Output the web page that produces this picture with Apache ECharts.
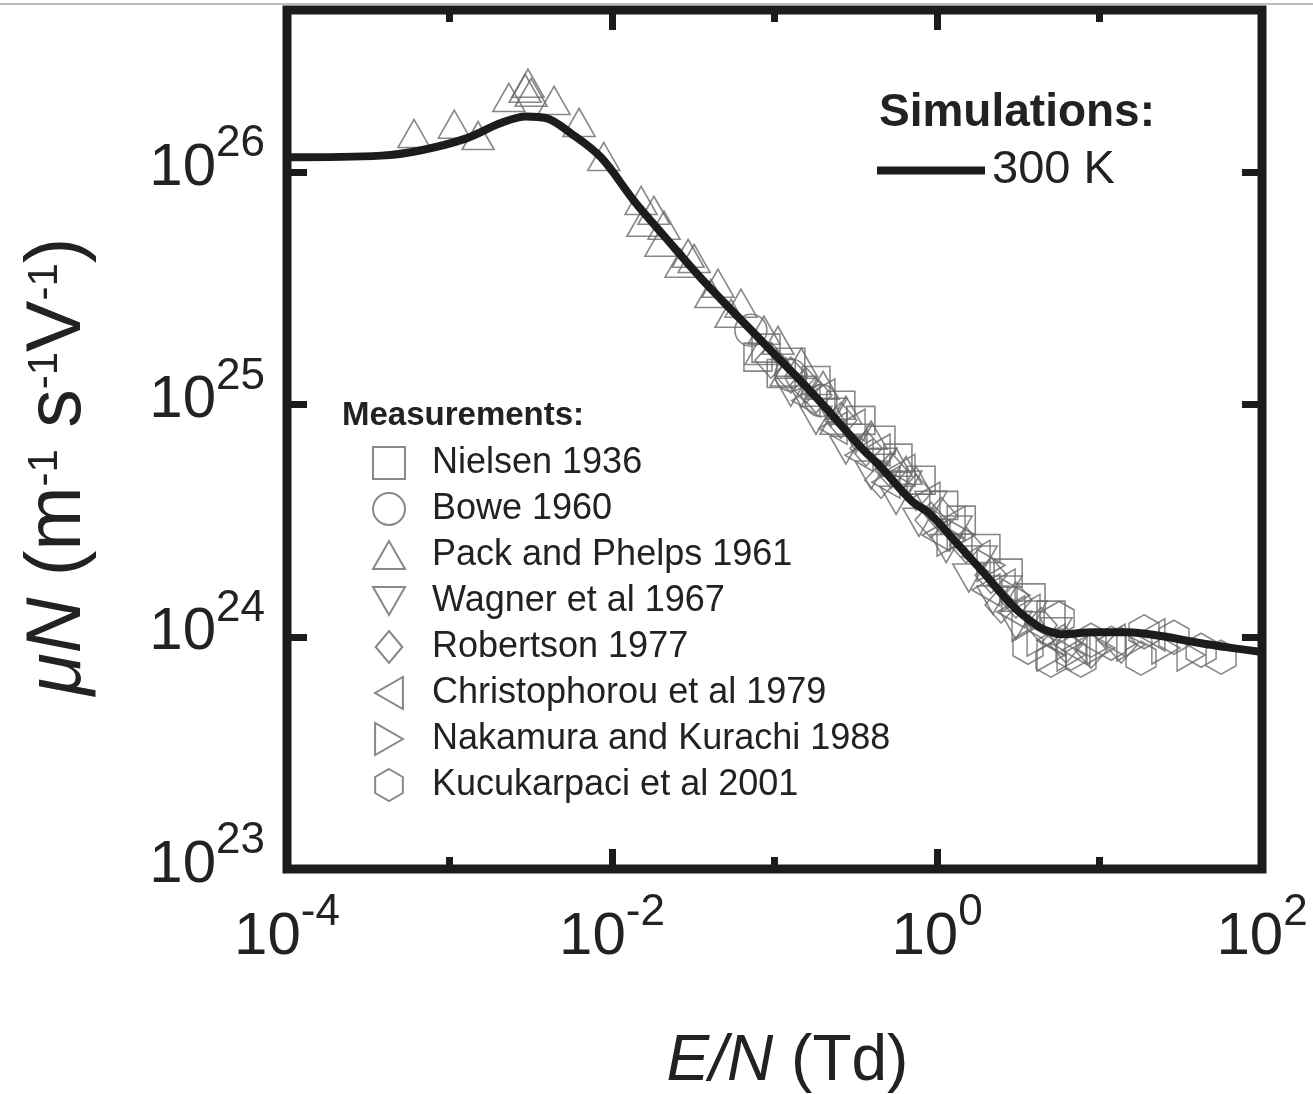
<!DOCTYPE html>
<html>
<head>
<meta charset="utf-8">
<script src="https://cdn.jsdelivr.net/npm/echarts@6/dist/echarts.min.js"></script>
<style>
  html, body { margin: 0; padding: 0; background: #ffffff; }
  #chart { width: 1313px; height: 1094px; }
</style>
</head>
<body>
<div id="chart"></div>
<script>
// Simulated reduced mobility at 300 K: E/N (Td) and muN (m^-1 s^-1 V^-1)
const simEN = [1e-4, 3.8e-4, 6.7e-4, 1.27e-3, 2.07e-3, 2.96e-3, 3.93e-3, 5.6e-3, 8.55e-3, 1.36e-2,
  2.0e-2, 3.53e-2, 8.26e-2, 0.175, 0.34, 0.452, 0.692, 0.918, 1.27, 1.87,
  2.98, 4.19, 5.04, 5.79, 9.25, 15.0, 23.9, 38.2, 61.8, 100];
const simMuN = [1.16e26, 1.18e26, 1.245e26, 1.40e26, 1.63e26, 1.74e26, 1.71e26, 1.47e26, 1.16e26, 7.57e25,
  5.52e25, 3.50e25, 1.89e25, 1.10e25, 6.55e24, 5.37e24, 3.87e24, 3.35e24, 2.61e24, 1.94e24,
  1.34e24, 1.11e24, 1.047e24, 1.026e24, 1.047e24, 1.047e24, 1.007e24, 9.5e23, 9.0e23, 8.6e23];

// Measured values, [E/N, muN]
const nielsen1936 = [[0.0791,1.60e25],[0.0887,1.75e25],[0.110,1.36e25],[0.126,1.52e25],[0.180,1.27e25],
  [0.256,9.93e24],[0.340,8.55e24],[0.452,7.02e24],[0.575,5.88e24],[0.798,4.72e24],[1.10,3.68e24],
  [1.41,3.18e24],[2.00,2.40e24],[2.74,1.88e24],[3.79,1.47e24],[5.03,1.24e24]];
const bowe1960 = [[0.0716,2.09e25],[0.126,1.34e25],[0.193,1.04e25]];
const packPhelps1961 = [[6.05e-4,1.47e26],[1.07e-3,1.61e26],[1.50e-3,1.44e26],[2.32e-3,2.10e26],
  [2.92e-3,2.30e26],[3.04e-3,2.42e26],[3.18e-3,2.21e26],[4.4e-3,2.04e26],[6.27e-3,1.64e26],
  [8.9e-3,1.17e26],[0.0151,7.57e25],[0.0155,6.09e25],[0.0181,6.86e25],[0.0200,5.0e25],[0.0209,5.92e25],
  [0.0266,4.06e25],[0.0294,4.48e25],[0.0320,4.26e25],[0.0406,3.01e25],[0.0449,3.33e25],[0.0540,2.47e25],
  [0.0622,2.73e25],[0.0826,1.71e25],[0.0861,2.09e25],[0.105,1.89e25],[0.118,1.38e25],[0.146,1.52e25],
  [0.199,1.21e25],[0.239,8.55e24],[0.275,9.45e24],[0.393,7.38e24],[0.560,5.65e24],[0.644,5.21e24],
  [0.743,4.72e24]];
const wagner1967 = [[0.126,1.13e25],[0.146,1.13e25],[0.180,8.55e24],[0.223,9.27e24],[0.275,6.36e24],
  [0.318,7.16e24],[0.393,4.97e24],[0.452,5.65e24],[0.560,3.87e24],[0.644,4.50e24],[0.774,3.11e24],
  [0.918,3.68e24],[1.14,2.40e24],[1.31,2.88e24],[1.57,1.79e24],[1.87,2.14e24],[2.21,1.44e24],
  [2.66,1.59e24],[3.06,1.12e24],[3.79,1.24e24],[5.40,1.05e24]];
const robertson1977 = [[0.0951,1.55e25],[0.126,1.34e25],[0.156,1.21e25],[0.180,1.10e25],[0.256,8.55e24],
  [0.366,6.49e24],[0.452,4.72e24],[0.521,5.21e24],[0.743,4.19e24],[0.918,3.18e24],[1.06,3.33e24],
  [1.51,2.48e24],[2.15,1.84e24],[2.48,1.37e24],[3.06,1.44e24],[4.37,1.12e24],[6.22,9.21e23],
  [8.87,8.75e23],[13.6,9.21e23]];
const christophorou1979 = [[0.156,1.04e25],[0.193,1.10e25],[0.229,7.91e24],[0.296,8.15e24],[0.331,6.05e24],
  [0.422,6.36e24],[0.485,4.63e24],[0.600,5.21e24],[0.855,3.95e24],[0.986,2.74e24],[1.22,3.11e24],
  [1.74,2.22e24],[2.00,1.59e24],[2.48,1.67e24],[2.85,1.28e24],[3.53,1.30e24],[5.03,9.67e23],
  [7.16,8.75e23],[11.8,9.67e23],[20.7,1.02e24]];
const nakamura1988 = [[1.22,2.61e24],[1.41,2.74e24],[2.15,2.03e24],[3.06,1.51e24],[3.53,1.12e24],
  [4.37,9.67e23],[5.03,8.34e23],[6.68,8.34e23],[10.2,8.94e23],[15.6,9.21e23],[25.6,8.94e23],[36.6,8.34e23]];
const kucukarpaci2001 = [[3.63,9.02e23],[5.03,7.93e23],[5.64,1.20e24],[6.68,8.50e23],[7.69,7.93e23],
  [8.87,9.67e23],[11.8,9.37e23],[18.0,8.09e23],[18.8,1.05e24],[28.7,9.96e23],[42.2,8.75e23],[56.0,8.17e23]];

const measurementNames = ['Nielsen 1936', 'Bowe 1960', 'Pack and Phelps 1961', 'Wagner et al 1967',
  'Robertson 1977', 'Christophorou et al 1979', 'Nakamura and Kurachi 1988', 'Kucukarpaci et al 2001'];
const simulationName = '300 K';

const FONT = '"Liberation Sans", Arial, Helvetica, sans-serif';
const INK = '#1c1c1c';
const MARK = '#6a6a6a';

const SYMBOLS = {
  square: 'path://M0,0 L10,0 L10,10 L0,10 Z',
  circle: 'circle',
  up: 'path://M5,0 L10,8.7 L0,8.7 Z',
  down: 'path://M0,0 L10,0 L5,8.7 Z',
  diamond: 'path://M5,0 L10,6 L5,12 L0,6 Z',
  left: 'path://M8.7,0 L8.7,10 L0,5 Z',
  right: 'path://M0,0 L0,10 L8.7,5 Z',
  hexagon: 'path://M5,0 L9.33,2.5 L9.33,7.5 L5,10 L0.67,7.5 L0.67,2.5 Z'
};

// "10" with the exponent raised as a superscript
function powLabel(v) {
  const e = Math.log10(v);
  if (Math.abs(e - Math.round(e)) > 1e-6) return '';
  return '{b|10}{s|' + Math.round(e) + '}';
}
const tickRich = {
  b: { fontFamily: FONT, fontSize: 60, color: '#222', lineHeight: 76, verticalAlign: 'bottom' },
  s: { fontFamily: FONT, fontSize: 44, color: '#222', lineHeight: 44, verticalAlign: 'top' }
};

function scatter(name, data, symbol, size) {
  return {
    name: name, type: 'scatter', data: data, symbol: symbol, symbolSize: size,
    itemStyle: { color: 'rgba(255,255,255,0)', borderColor: MARK, borderWidth: 1.6 },
    emphasis: { disabled: true }, z: 2
  };
}

const chart = echarts.init(document.getElementById('chart'), null, { renderer: 'canvas' });

const xBase = { type: 'log', min: 1e-4, max: 1e2, gridIndex: 0, splitLine: { show: false }, axisLine: { show: false } };
const yBase = { type: 'log', min: 1e23, max: 5e26, interval: 1, gridIndex: 0, splitLine: { show: false }, axisLine: { show: false } };

chart.setOption({
  animation: false,
  backgroundColor: '#ffffff',
  grid: { left: 287, right: 51, top: 10, bottom: 225, outerBoundsMode: 'none', containLabel: false,
    show: true, borderColor: INK, borderWidth: 9, backgroundColor: 'transparent' },
  title: [
    { text: 'Simulations:', left: 879, top: 90, padding: 0,
      textStyle: { fontFamily: FONT, fontSize: 46, fontWeight: 'bold', color: '#222' } },
    { text: 'Measurements:', left: 342, top: 399, padding: 0,
      textStyle: { fontFamily: FONT, fontSize: 33, fontWeight: 'bold', color: '#222' } }
  ],
  legend: [
    { data: measurementNames, orient: 'vertical', left: 372, top: 445, padding: 0,
      itemWidth: 32, itemHeight: 32, itemGap: 10, selectedMode: false, symbolRotate: 'inherit',
      textStyle: { fontFamily: FONT, fontSize: 36, color: '#222', lineHeight: 32, padding: [0, 0, 0, 22] } },
    { data: [{ name: simulationName, icon: 'rect' }], left: 877, top: 147, padding: 0,
      itemWidth: 108, itemHeight: 8, selectedMode: false,
      itemStyle: { color: INK },
      textStyle: { fontFamily: FONT, fontSize: 47, color: '#222', lineHeight: 46, padding: [0, 0, 0, 2] } }
  ],
  xAxis: [
    Object.assign({}, xBase, {
      position: 'bottom', interval: 2,
      axisTick: { show: true, inside: true, length: 20, lineStyle: { color: INK, width: 7 } },
      axisLabel: { formatter: powLabel, rich: tickRich, margin: 22, showMinLabel: true, showMaxLabel: true },
      name: '{i|E/N}{n| (Td)}', nameLocation: 'middle', nameGap: 161,
      nameTextStyle: { padding: [0, 0, 0, 26], rich: {
        i: { fontFamily: FONT, fontSize: 64, fontStyle: 'italic', color: '#222' },
        n: { fontFamily: FONT, fontSize: 64, color: '#222' } } }
    }),
    Object.assign({}, xBase, {
      position: 'top', interval: 2,
      axisTick: { show: true, inside: true, length: 20, lineStyle: { color: INK, width: 7 } },
      axisLabel: { show: false }
    }),
    Object.assign({}, xBase, {
      position: 'bottom', interval: 1,
      axisTick: { show: true, inside: true, length: 12, lineStyle: { color: INK, width: 7 } },
      axisLabel: { show: false }
    }),
    Object.assign({}, xBase, {
      position: 'top', interval: 1,
      axisTick: { show: true, inside: true, length: 12, lineStyle: { color: INK, width: 7 } },
      axisLabel: { show: false }
    })
  ],
  yAxis: [
    Object.assign({}, yBase, {
      position: 'left',
      axisTick: { show: true, inside: true, length: 20, lineStyle: { color: INK, width: 7 } },
      axisLabel: { formatter: powLabel, rich: tickRich, margin: 22, padding: [0, 0, 24, 0], showMaxLabel: false },
      name: '{i|\u03bcN}{n| (m}{s|-1}{n| s}{s|-1}{n|V}{s|-1}{n|)}', nameLocation: 'middle', nameGap: 193, nameRotate: 90,
      nameTextStyle: { padding: [0, 54, 0, 0], rich: {
        i: { fontFamily: FONT, fontSize: 77, fontStyle: 'italic', color: '#222', lineHeight: 70 },
        n: { fontFamily: FONT, fontSize: 77, color: '#222', lineHeight: 70 },
        s: { fontFamily: FONT, fontSize: 42, color: '#222', lineHeight: 40, verticalAlign: 'top' } } }
    }),
    Object.assign({}, yBase, {
      position: 'right',
      axisTick: { show: true, inside: true, length: 20, lineStyle: { color: INK, width: 7 } },
      axisLabel: { show: false }
    })
  ],
  graphic: [
    { type: 'line', shape: { x1: 0, y1: 4, x2: 1313, y2: 4 }, style: { stroke: '#bdbdbd', lineWidth: 2 }, z: 0 }
  ],
  series: [
    scatter(measurementNames[0], nielsen1936, SYMBOLS.square, 28),
    scatter(measurementNames[1], bowe1960, SYMBOLS.circle, 32),
    scatter(measurementNames[2], packPhelps1961, SYMBOLS.up, [32, 28]),
    scatter(measurementNames[3], wagner1967, SYMBOLS.down, [32, 28]),
    scatter(measurementNames[4], robertson1977, SYMBOLS.diamond, [32, 36]),
    scatter(measurementNames[5], christophorou1979, SYMBOLS.left, [28, 32]),
    scatter(measurementNames[6], nakamura1988, SYMBOLS.right, [28, 32]),
    scatter(measurementNames[7], kucukarpaci2001, SYMBOLS.hexagon, [30, 34]),
    {
      name: simulationName, type: 'line', symbol: 'none', smooth: 0.35,
      data: simEN.map((x, i) => [x, simMuN[i]]),
      lineStyle: { color: INK, width: 8, cap: 'round', join: 'round' },
      itemStyle: { color: INK },
      emphasis: { disabled: true }, z: 5
    }
  ]
});
</script>
</body>
</html>
